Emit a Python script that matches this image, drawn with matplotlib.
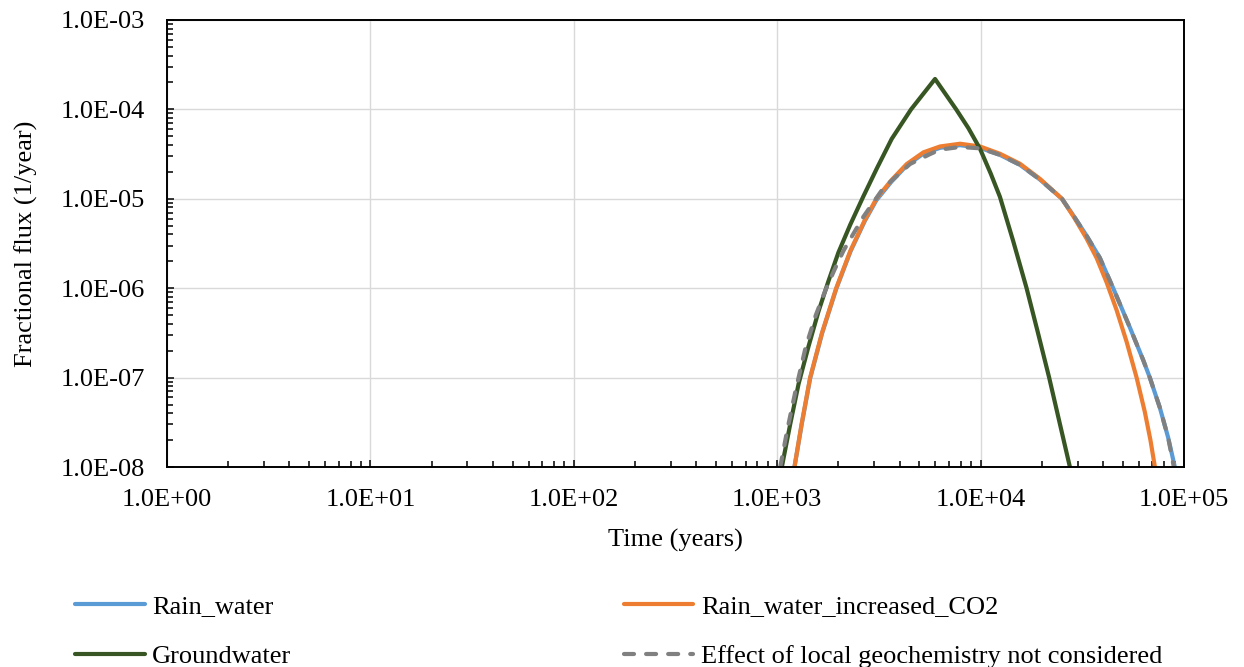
import numpy as np
import matplotlib
matplotlib.use("Agg")
from matplotlib import pyplot as plt
from matplotlib.ticker import FuncFormatter, LogLocator, NullFormatter

# values (time in years, fractional flux in 1/year)
rain_t = [1216, 1318, 1452, 1660, 1950, 2291, 2692, 3069, 3648, 4335, 5236, 6324, 7925,
          9931, 12450, 15600, 19590, 25120, 28840, 33110, 38550, 44870, 54200, 62950,
          67920, 76030, 83560, 90160]
rain_f = [1.0e-8, 2.95e-8, 9.8e-8, 3.1e-7, 9.8e-7, 2.57e-6, 5.6e-6, 9.6e-6, 1.56e-5,
          2.36e-5, 3.2e-5, 3.72e-5, 3.98e-5, 3.72e-5, 3.1e-5, 2.4e-5, 1.64e-5, 1.0e-5,
          6.3e-6, 3.9e-6, 2.19e-6, 1.0e-6, 3.63e-7, 1.58e-7, 1.0e-7, 4.63e-8, 2.14e-8, 1.0e-8]

co2_t = [1216, 1318, 1452, 1660, 1950, 2291, 2692, 3069, 3648, 4335, 5236, 6324, 7925,
         9931, 12450, 15600, 19590, 25120, 28840, 33110, 37150, 41590, 46560, 52240,
         58480, 64120, 68390, 71940]
co2_f = [1.0e-8, 3.02e-8, 1.0e-7, 3.16e-7, 1.0e-6, 2.63e-6, 5.75e-6, 1.0e-5, 1.62e-5,
         2.45e-5, 3.31e-5, 3.85e-5, 4.13e-5, 3.85e-5, 3.19e-5, 2.47e-5, 1.67e-5, 1.0e-5,
         6.17e-6, 3.63e-6, 2.19e-6, 1.17e-6, 5.75e-7, 2.51e-7, 1.0e-7, 4.17e-8, 2.0e-8, 1.0e-8]

gw_t = [1054, 1159, 1274, 1426, 1596, 1786, 2000, 2286, 2655, 3090, 3656, 4550, 5248, 5970,
        7586, 8710, 9931, 11220, 12450, 14450, 16830, 19050, 21730, 24550, 27480]
gw_f = [1.0e-8, 3.02e-8, 8.51e-8, 2.24e-7, 5.50e-7, 1.20e-6, 2.51e-6, 5.13e-6, 1.07e-5,
        2.19e-5, 4.68e-5, 1.0e-4, 1.51e-4, 2.19e-4, 1.0e-4, 6.17e-5, 3.63e-5, 1.91e-5,
        1.05e-5, 3.39e-6, 1.0e-6, 3.31e-7, 1.0e-7, 3.02e-8, 1.0e-8]

nogeo_t = [1035, 1122, 1230, 1380, 1549, 1722, 1905, 2118, 2655, 3327, 4498, 5636, 6324,
           7925, 9931, 12450, 15600, 19590, 25120, 28840, 33110, 38550, 44870, 54200,
           62950, 67920, 76030, 83560, 89130]
nogeo_f = [1.0e-8, 2.63e-8, 7.08e-8, 2.19e-7, 5.01e-7, 9.33e-7, 1.58e-6, 2.63e-6, 6.31e-6,
           1.32e-5, 2.45e-5, 3.16e-5, 3.55e-5, 3.80e-5, 3.67e-5, 3.1e-5, 2.4e-5, 1.64e-5,
           1.0e-5, 6.3e-6, 3.9e-6, 2.19e-6, 1.0e-6, 3.63e-7, 1.58e-7, 1.0e-7, 4.63e-8,
           2.14e-8, 1.0e-8]

plt.rcParams['font.family'] = ['Liberation Serif', 'DejaVu Serif']
plt.rcParams['font.size'] = 19

fig = plt.figure(figsize=(12.44, 6.67), dpi=100)
ax = fig.add_axes([167/1244, 1 - 467/667, 1017/1244, 447/667])

lw = 3.0
l1, = ax.plot(rain_t, rain_f, color='#5B9BD5', lw=lw, solid_capstyle='round', solid_joinstyle='round',
              label='Rain_water')
l2, = ax.plot(co2_t, co2_f, color='#ED7D31', lw=lw, solid_capstyle='round', solid_joinstyle='round',
              label='Rain_water_increased_CO2')
l3, = ax.plot(gw_t, gw_f, color='#375623', lw=lw, solid_capstyle='round', solid_joinstyle='round',
              label='Groundwater')
l4, = ax.plot(nogeo_t, nogeo_f, color='#808080', lw=lw, dashes=(2.4, 2.9), dash_capstyle='round',
              label='Effect of local geochemistry not considered')

ax.set_xscale('log')
ax.set_yscale('log')
ax.set_xlim(1, 1e5)
ax.set_ylim(1e-8, 1e-3)

fmt = FuncFormatter(lambda v, p: f"{v:.1E}")
ax.xaxis.set_major_locator(LogLocator(base=10, numticks=10))
ax.yaxis.set_major_locator(LogLocator(base=10, numticks=10))
ax.xaxis.set_minor_locator(LogLocator(base=10, subs=np.arange(2, 10), numticks=20))
ax.yaxis.set_minor_locator(LogLocator(base=10, subs=np.arange(2, 10), numticks=20))
ax.xaxis.set_major_formatter(fmt)
ax.yaxis.set_major_formatter(fmt)
ax.xaxis.set_minor_formatter(NullFormatter())
ax.yaxis.set_minor_formatter(NullFormatter())

ax.tick_params(which='both', direction='in', top=False, right=False, width=1.1, color='black')
ax.tick_params(which='major', length=5)
ax.tick_params(which='minor', length=4)
ax.tick_params(axis='x', which='major', pad=16)
ax.tick_params(axis='y', which='major', pad=16)

ax.grid(True, which='major', color='#D9D9D9', lw=1.0)
ax.set_axisbelow(True)
for s in ax.spines.values():
    s.set_color('black')
    s.set_linewidth(1.4)

ax.set_xlabel('Time (years)')
ax.set_ylabel('Fractional flux (1/year)')
ax.xaxis.set_label_coords(0.5, -0.139)
ax.yaxis.set_label_coords(-0.127, 0.5)

fig.legend([l1, l3, l2, l4], [l1.get_label(), l3.get_label(), l2.get_label(), l4.get_label()],
           ncol=2, loc='upper left', bbox_to_anchor=(75/1244, 1 - 595/667), frameon=False,
           borderpad=0, borderaxespad=0, handlelength=2.65, handletextpad=0.28,
           columnspacing=12.58, labelspacing=0.98)

fig.savefig('out.png', dpi=100)
